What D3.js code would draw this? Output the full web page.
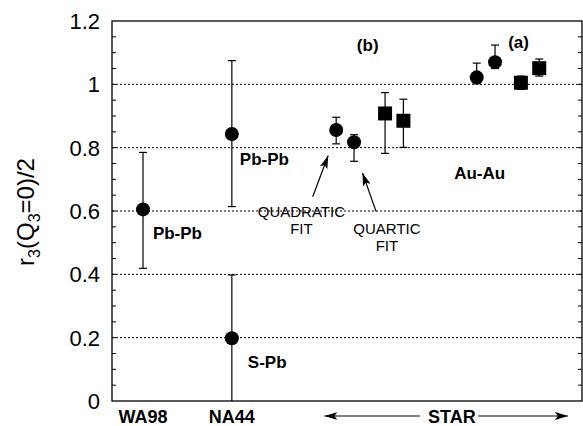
<!DOCTYPE html>
<html>
<head>
<meta charset="utf-8">
<script src="https://cdn.jsdelivr.net/npm/d3@7"></script>
<style>
  body { margin: 0; background: #fff; }
  text { font-family: "Liberation Sans", Arial, sans-serif; fill: #000; }
</style>
</head>
<body>
<svg id="chart" width="583" height="426"></svg>
<script>
// data
const pointPos   = [6.6, 25.5, 25.5, 47.7, 51.5, 58.1, 62.0, 77.6, 81.5, 87.0, 90.9];
const pointVal   = [0.605, 0.843, 0.198, 0.856, 0.817, 0.908, 0.885, 1.022, 1.070, 1.005, 1.051];
const pointLo    = [0.419, 0.614, 0.0, 0.812, 0.757, 0.782, 0.801, 1.002, 1.050, 0.984, 1.026];
const pointHi    = [0.785, 1.075, 0.398, 0.896, 0.841, 0.974, 0.953, 1.067, 1.124, 1.026, 1.080];
const pointShape = ["circle", "circle", "circle", "circle", "circle", "square", "square", "circle", "circle", "square", "square"];

const yTicks = [0, 0.2, 0.4, 0.6, 0.8, 1, 1.2];
const gridVals = [0.2, 0.4, 0.6, 0.8, 1.0];

const expLabels = [
  {text: "WA98", pos: 6.6},
  {text: "NA44", pos: 25.5},
  {text: "STAR", pos: 72.3}
];
// STAR arrow: [line start, arrow tip]
const starArrows = [[65.5, 45.2], [77.9, 97.0]];

// text annotations, placed in data units
const notes = [
  {text: "Pb-Pb", pos: 27.2, val: 0.745, bold: true},
  {text: "Pb-Pb", pos: 8.7, val: 0.512, bold: true},
  {text: "S-Pb", pos: 28.9, val: 0.104, bold: true},
  {text: "Au-Au", pos: 72.8, val: 0.70, bold: true},
  {text: "(b)", pos: 52.1, val: 1.106, bold: true},
  {text: "(a)", pos: 84.3, val: 1.116, bold: true},
  {text: "QUADRATIC", pos: 40.3, val: 0.582, bold: false, mid: true},
  {text: "FIT", pos: 40.3, val: 0.527, bold: false, mid: true},
  {text: "QUARTIC", pos: 58.5, val: 0.527, bold: false, mid: true},
  {text: "FIT", pos: 58.5, val: 0.475, bold: false, mid: true}
];
const arrows = [
  {from: [42.7, 0.645], to: [46.0, 0.775]},
  {from: [56.2, 0.598], to: [53.3, 0.720]}
];

const svg = d3.select("#chart");
const margin = {left: 112, right: 1, top: 21, bottom: 25};
const W = 583, H = 426;

const x = d3.scaleLinear().domain([0, 100]).range([margin.left, W - margin.right]);
const y = d3.scaleLinear().domain([0, 1.2]).range([H - margin.bottom, margin.top]);

const defs = svg.append("defs");
defs.append("marker")
  .attr("id", "head")
  .attr("viewBox", "0 0 13 8")
  .attr("refX", 13).attr("refY", 4)
  .attr("markerWidth", 13).attr("markerHeight", 8)
  .attr("markerUnits", "userSpaceOnUse")
  .attr("orient", "auto")
  .append("path").attr("d", "M0,0 L13,4 L0,8 L3,4 Z").attr("fill", "#000");

// dotted grid lines
svg.append("g").selectAll("line").data(gridVals).join("line")
  .attr("x1", x(0)).attr("x2", x(100))
  .attr("y1", d => y(d)).attr("y2", d => y(d))
  .attr("stroke", "#000").attr("stroke-width", 1)
  .attr("stroke-dasharray", "2,2");

// minor ticks inside both sides
const minor = d3.range(0.05, 1.2, 0.05);
const tk = svg.append("g");
tk.selectAll(".tl").data(minor).join("line")
  .attr("x1", x(0)).attr("x2", x(0) + 4)
  .attr("y1", d => y(d)).attr("y2", d => y(d))
  .attr("stroke", "#000");
tk.selectAll(".tr").data(minor).join("line")
  .attr("x1", x(100)).attr("x2", x(100) - 4)
  .attr("y1", d => y(d)).attr("y2", d => y(d))
  .attr("stroke", "#000");

// frame
svg.append("rect")
  .attr("x", x(0)).attr("y", y(1.2))
  .attr("width", x(100) - x(0)).attr("height", y(0) - y(1.2))
  .attr("fill", "none").attr("stroke", "#000").attr("stroke-width", 1.3);

// y tick labels
svg.append("g").selectAll("text").data(yTicks).join("text")
  .attr("x", 100).attr("y", d => y(d))
  .attr("dy", "0.36em")
  .attr("text-anchor", "end")
  .style("font-size", "22px")
  .text(d => d3.format("~g")(d));

// y axis title
const yt = svg.append("text")
  .attr("transform", `translate(34,${212}) rotate(-90)`)
  .attr("text-anchor", "middle")
  .style("font-size", "24px");
yt.append("tspan").text("r");
yt.append("tspan").attr("dy", 6).style("font-size", "16px").text("3");
yt.append("tspan").attr("dy", -6).text("(Q");
yt.append("tspan").attr("dy", 6).style("font-size", "16px").text("3");
yt.append("tspan").attr("dy", -6).text("=0)/2");

// error bars
const idx = d3.range(pointVal.length);
const eb = svg.append("g").attr("stroke", "#000").attr("stroke-width", 1.2);
eb.selectAll(".v").data(idx).join("line")
  .attr("x1", i => x(pointPos[i])).attr("x2", i => x(pointPos[i]))
  .attr("y1", i => y(pointLo[i])).attr("y2", i => y(pointHi[i]));
eb.selectAll(".ch").data(idx).join("line")
  .attr("x1", i => x(pointPos[i]) - 4).attr("x2", i => x(pointPos[i]) + 4)
  .attr("y1", i => y(pointHi[i])).attr("y2", i => y(pointHi[i]));
eb.selectAll(".cl").data(idx.filter(i => pointLo[i] > 0)).join("line")
  .attr("x1", i => x(pointPos[i]) - 4).attr("x2", i => x(pointPos[i]) + 4)
  .attr("y1", i => y(pointLo[i])).attr("y2", i => y(pointLo[i]));

// markers
svg.append("g").selectAll("circle").data(idx.filter(i => pointShape[i] == "circle")).join("circle")
  .attr("cx", i => x(pointPos[i])).attr("cy", i => y(pointVal[i]))
  .attr("r", 7).attr("fill", "#000");
svg.append("g").selectAll("rect").data(idx.filter(i => pointShape[i] == "square")).join("rect")
  .attr("x", i => x(pointPos[i]) - 7).attr("y", i => y(pointVal[i]) - 7)
  .attr("width", 14).attr("height", 14).attr("fill", "#000");

// annotations
svg.append("g").selectAll("text").data(notes).join("text")
  .attr("x", d => x(d.pos)).attr("y", d => y(d.val))
  .attr("text-anchor", d => d.mid ? "middle" : "start")
  .style("font-weight", d => d.bold ? "bold" : "normal")
  .style("font-size", d => d.bold ? "17px" : "15px")
  .text(d => d.text);

svg.append("g").selectAll("line").data(arrows).join("line")
  .attr("x1", d => x(d.from[0])).attr("y1", d => y(d.from[1]))
  .attr("x2", d => x(d.to[0])).attr("y2", d => y(d.to[1]))
  .attr("stroke", "#000").attr("stroke-width", 1.2)
  .attr("marker-end", "url(#head)");

// experiment labels below axis
svg.append("g").selectAll("text").data(expLabels).join("text")
  .attr("x", d => x(d.pos)).attr("y", 423)
  .attr("text-anchor", "middle")
  .style("font-weight", "bold").style("font-size", "18px")
  .text(d => d.text);

svg.append("g").selectAll("line").data(starArrows).join("line")
  .attr("x1", d => x(d[0])).attr("x2", d => x(d[1]))
  .attr("y1", 416).attr("y2", 416)
  .attr("stroke", "#000").attr("stroke-width", 1.2)
  .attr("marker-end", "url(#head)");
</script>
</body>
</html>
